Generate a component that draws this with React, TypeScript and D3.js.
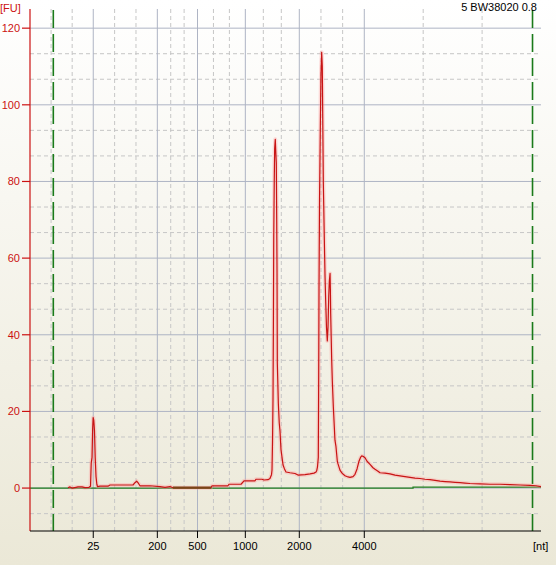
import React from 'react';
import * as d3 from 'd3';

// ladder sizes and the migration time (s) where each one sits
const ladderNt = [25, 200, 500, 1000, 2000, 4000];
const ladderTime = [25.19, 31.46, 35.39, 40.07, 45.35, 51.71];
const fuTicks = [0, 20, 40, 60, 80, 100, 120];
const markerTime = [21.28, 68.17];
const sampleName = '5 BW38020 0.8';

// electropherogram trace: time (s) vs fluorescence (FU)
const traceTime = [
  22.72, 22.91, 23.11, 23.5, 23.7, 24.09, 24.38, 24.77, 24.92, 24.99,
  25.07, 25.13, 25.18, 25.24, 25.31, 25.38, 25.46, 25.54, 25.6, 25.85,
  26.63, 26.83, 28.79, 29.08, 29.27, 29.44, 29.62, 29.76, 30.74, 31.72,
  32.21, 32.7, 32.99, 34.66, 36.71, 36.81, 38.37, 38.47, 39.65, 39.94,
  41.02, 41.11, 41.7, 41.9, 42.29, 42.48, 42.63, 42.68, 42.73, 42.78,
  42.82, 42.85, 42.9, 42.94, 43.0, 43.06, 43.1, 43.14, 43.17, 43.2,
  43.3, 43.39, 43.46, 43.56, 43.66, 43.76, 43.9, 44.05, 44.44, 44.93,
  45.22, 45.91, 46.4, 46.79, 46.99, 47.05, 47.13, 47.21, 47.25, 47.28,
  47.33, 47.41, 47.47, 47.54, 47.6, 47.64, 47.7, 47.8, 47.87, 47.93,
  48.01, 48.09, 48.16, 48.23, 48.29, 48.36, 48.39, 48.42, 48.52, 48.58,
  48.68, 48.84, 48.94, 49.07, 49.14, 49.33, 49.53, 49.82, 50.12, 50.31,
  50.61, 50.8, 51.0, 51.19, 51.34, 51.46, 51.58, 51.78, 51.98, 52.27,
  52.56, 52.76, 53.05, 53.25, 53.74, 54.23, 54.72, 55.2, 55.69, 56.18,
  56.67, 57.16, 57.65, 58.14, 58.63, 59.12, 59.61, 60.1, 60.59, 61.08,
  61.56, 62.05, 63.03, 64.01, 64.99, 65.97, 66.95, 67.93, 68.51, 69.0,
];
const traceFU = [
  0.1, 0.3, 0.0, 0.2, 0.3, 0.3, 0.1, 0.2, 0.5, 6.5,
  8, 15.5, 18.4, 17.7, 15, 8, 3, 1, 0.4, 0.5,
  0.5, 0.8, 0.8, 0.8, 1.4, 1.8, 1.2, 0.6, 0.6, 0.4,
  0.2, 0.4, 0.1, 0.1, 0.1, 0.6, 0.6, 1.0, 1.0, 1.9,
  1.9, 2.3, 2.3, 2.1, 2.2, 2.5, 3.5, 4.7, 12, 23.8,
  45, 65.5, 80, 88.5, 91, 87, 84.8, 70, 56.9, 32.6,
  22, 16.9, 15, 10, 8, 6, 5, 4.2, 4.0, 3.8,
  3.4, 3.5, 3.7, 3.9, 4.2, 4.5, 5.5, 8, 30, 53,
  75, 95, 108, 113.7, 110, 97.7, 80, 64.7, 55, 49,
  42, 38.4, 42, 50, 54, 56, 52, 45.6, 33.4, 28,
  21.2, 12.5, 10.8, 7, 6.3, 4.7, 3.9, 3.2, 2.9, 2.8,
  3.0, 3.6, 5.0, 7.0, 8.0, 8.4, 8.3, 7.9, 7.0, 6.2,
  5.3, 4.9, 4.4, 4.0, 3.9, 3.7, 3.4, 3.2, 3.0, 2.8,
  2.6, 2.5, 2.3, 2.2, 2.0, 1.8, 1.7, 1.6, 1.5, 1.4,
  1.3, 1.2, 1.1, 1.0, 1.0, 0.9, 0.8, 0.7, 0.6, 0.4,
];

// software baseline (green) and the stretch where trace sits on it
const baselineTime = [19, 56.48, 69];
const baselineFU = [0, 0.25, 0.25];
const overlapTime = [32.99, 36.71];

const W = 556;
const H = 565;
const font = 'Liberation Sans, Arial, sans-serif';

export default function App() {
  const x = d3.scaleLinear().domain([19, 69]).range([30, 541]);
  const y = d3.scaleLinear().domain([-11.2, 125]).range([531, 9]);

  const bounds = [19, ...ladderTime, 69];
  const minorX: number[] = [];
  for (let i = 0; i < bounds.length - 1; i++) {
    const a = bounds[i], b = bounds[i + 1];
    minorX.push(a + (b - a) / 3, a + (2 * (b - a)) / 3);
  }
  const minorY = d3.range(-1, 19).filter(i => i % 3 !== 0).map(i => (i * 20) / 3)
    .filter(v => v > -11.2 && v < 125);

  const trace = d3.line<number>()
    .x((_, i) => x(traceTime[i]))
    .y(d => y(d))(traceFU) || '';
  const baseline = d3.line<number>()
    .curve(d3.curveStepAfter)
    .x((_, i) => x(baselineTime[i]))
    .y(d => y(d))(baselineFU) || '';

  const [x0, x1] = x.range();
  const [yb, yt] = y.range();

  return (
    <svg width={W} height={H} style={{ position: 'absolute', left: 0, top: 0, display: 'block' }}
      fontFamily={font} fontSize={11}>
      <defs>
        <linearGradient id="bg" x1="0" y1="0" x2="0" y2="1">
          <stop offset="0" stopColor="#ffffff" />
          <stop offset="1" stopColor="#ebe8d7" />
        </linearGradient>
      </defs>
      <rect width={W} height={H} fill="url(#bg)" />

      {/* minor grid */}
      {minorX.map((t, i) => (
        <line key={'mx' + i} x1={x(t)} x2={x(t)} y1={yt} y2={yb}
          stroke="#c6c6c6" strokeDasharray="4,3" />
      ))}
      {minorY.map((v, i) => (
        <line key={'my' + i} x1={x0} x2={x1} y1={y(v)} y2={y(v)}
          stroke="#c6c6c6" strokeDasharray="4,3" />
      ))}
      {/* major grid */}
      {ladderTime.map((t, i) => (
        <line key={'gx' + i} x1={x(t)} x2={x(t)} y1={yt} y2={yb} stroke="#aeb4c4" />
      ))}
      {fuTicks.map(v => (
        <line key={'gy' + v} x1={x0} x2={x1} y1={y(v)} y2={y(v)} stroke="#aeb4c4" />
      ))}

      {/* markers */}
      {markerTime.map((t, i) => (
        <line key={'mk' + i} x1={x(t)} x2={x(t)} y1={yt + 1} y2={yb}
          stroke="#1a7a1a" strokeWidth={1.6} strokeDasharray="18,6" />
      ))}

      {/* baseline */}
      <path d={baseline} fill="none" stroke="#1f7f1f" strokeWidth={1.3} />

      {/* trace */}
      <path d={trace} fill="none" stroke="#ff9c9c" strokeOpacity={0.35} strokeWidth={4}
        strokeLinejoin="round" />
      <path d={trace} fill="none" stroke="#c81414" strokeWidth={1.2} strokeLinejoin="round" />
      <line x1={x(overlapTime[0])} x2={x(overlapTime[1])} y1={y(0) - 0.5} y2={y(0) - 0.5}
        stroke="#7c4418" strokeWidth={2.2} />

      {/* y axis */}
      <line x1={x0} x2={x0} y1={yt} y2={yb} stroke="#cc1111" strokeWidth={1.2} />
      {fuTicks.map(v => (
        <g key={'ty' + v}>
          <line x1={22} x2={x0} y1={y(v)} y2={y(v)} stroke="#cc1111" strokeWidth={1.2} />
          <text x={20} y={y(v)} dy="0.36em" textAnchor="end" fill="#cc1111">{v}</text>
        </g>
      ))}
      <text x={0} y={12} fill="#cc1111">[FU]</text>

      {/* x axis */}
      <line x1={x0} x2={x1} y1={yb} y2={yb} stroke="#000" strokeWidth={1.2} />
      {ladderNt.map((n, i) => (
        <g key={'tx' + n}>
          <line x1={x(ladderTime[i])} x2={x(ladderTime[i])} y1={yb} y2={yb + 7} stroke="#000" />
          <text x={x(ladderTime[i])} y={550} textAnchor="middle" fill="#000">{n}</text>
        </g>
      ))}
      <text x={533} y={550} fill="#000">[nt]</text>

      <text x={537} y={11} textAnchor="end" fill="#000">{sampleName}</text>
    </svg>
  );
}
